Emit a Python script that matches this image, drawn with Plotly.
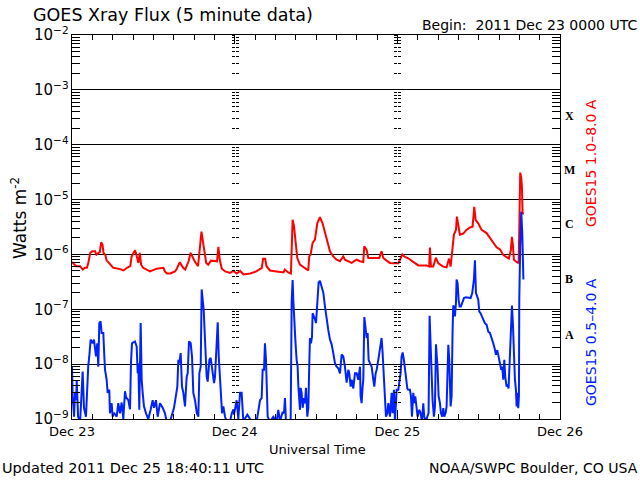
import pandas as pd
import plotly.graph_objects as go

START = "2011-12-23 00:00"

# ---- GOES15 1.0-8.0 A (long channel), hours since start / W m^-2 ----
red_hours = [
    0.0, 0.3, 0.6, 1.2, 1.6, 1.9, 2.2, 2.4, 2.7, 3.0, 3.4, 3.6, 3.9, 4.1, 4.3, 4.5, 4.65, 4.9, 5.1, 5.6,
    6.1, 7.1, 7.6, 8.1, 8.6, 8.8, 9.3, 9.5, 9.8, 10.0, 10.2, 10.5, 11.5, 12.5, 13.5, 13.7, 14.0, 14.5,
    15.2, 15.4, 15.9, 16.4, 16.7, 17.2, 17.5, 18.1, 18.3, 18.6, 19.1, 19.3, 19.5, 19.8, 20.1, 20.5,
    20.9, 21.4, 21.6, 21.8, 22.1, 22.6, 23.3,
    23.8, 24.3, 24.8, 25.3, 26.3, 27.2, 28.0, 28.2, 28.5, 28.7, 29.2, 30.2, 31.2, 31.4, 31.9, 32.3,
    32.45, 32.55, 32.75, 33.0, 33.24, 33.63, 34.37, 34.86, 35.0, 35.2, 35.5, 35.84, 36.19, 36.58,
    36.97, 37.32, 37.66, 38.06, 38.55, 39.04, 39.53, 39.78, 40.02, 40.27, 40.76, 41.25, 41.99, 42.48,
    42.97, 43.12, 43.46, 43.71, 44.45, 45.33, 45.68, 45.92, 46.42, 46.91,
    47.4, 48.14, 48.38, 48.73, 49.12, 49.61, 50.35, 51.09, 52.3, 52.7, 52.81, 52.96, 53.3, 53.69,
    54.04, 54.77, 55.27, 55.62, 55.86, 56.1, 56.35, 56.65, 56.79, 56.99, 57.23, 57.72, 58.2, 58.71,
    59.1, 59.35, 59.55, 59.94, 60.43, 61.17, 61.66, 62.15, 62.64, 63.13, 63.63, 64.12, 64.46, 64.75,
    64.9, 65.05, 65.2, 65.59, 65.89, 65.99, 66.13, 66.28, 66.38, 66.48, 66.67,
]
red_flux = [
    7.3e-7, 6.8e-7, 6.1e-7, 6.1e-7, 5.3e-7, 5.7e-7, 5.7e-7, 7.0e-7, 1.07e-6, 1.14e-6, 1.14e-6, 9.9e-7,
    1.07e-6, 1.1e-6, 1.66e-6, 1.51e-6, 1.07e-6, 9.9e-7, 7.8e-7, 6.5e-7,
    5.7e-7, 5.4e-7, 5.1e-7, 5.7e-7, 6.1e-7, 9.2e-7, 1.19e-6, 9.9e-7, 7.0e-7, 1.07e-6, 6.5e-7, 5.7e-7,
    4.9e-7, 5.5e-7, 5.7e-7, 4.9e-7, 4.5e-7, 4.5e-7,
    4.9e-7, 5.3e-7, 7.2e-7, 5.7e-7, 5.3e-7, 7.5e-7, 1.07e-6, 7.5e-7, 6.8e-7, 6.1e-7, 2.6e-6, 1.9e-6,
    1.22e-6, 7.0e-7, 6.5e-7, 7.7e-7,
    7.7e-7, 7.5e-7, 1.37e-6, 8.0e-7, 5.5e-7, 4.9e-7, 4.6e-7,
    5.0e-7, 4.5e-7, 5.0e-7, 4.3e-7, 4.5e-7, 4.9e-7, 5.7e-7, 8.3e-7, 8.3e-7, 6.1e-7, 5.1e-7, 4.9e-7,
    4.7e-7, 5.3e-7, 4.7e-7, 4.5e-7,
    1.86e-6, 4.3e-6, 3.3e-6, 1.41e-6, 8.6e-7, 6.5e-7, 5.7e-7, 5.1e-7, 9.2e-7, 9.9e-7, 1.62e-6, 1.86e-6,
    3.7e-6, 4.8e-6,
    3.7e-6, 2.5e-6, 1.62e-6, 1.14e-6, 9.2e-7, 8.0e-7, 7.5e-7, 8.6e-7, 9.2e-7, 8.0e-7, 7.5e-7, 7.0e-7,
    8.0e-7, 7.5e-7,
    7.3e-7, 1.41e-6, 1.22e-6, 8.6e-7, 8.6e-7, 8.6e-7, 1.14e-6, 8.6e-7, 7.7e-7, 7.0e-7,
    6.9e-7, 6.9e-7, 7.9e-7, 1.0e-6, 9.0e-7, 8.5e-7, 7.3e-7, 6.3e-7, 6.3e-7, 6.0e-7, 1.33e-6, 6.0e-7,
    6.0e-7, 8.7e-7,
    6.9e-7, 6.0e-7, 5.8e-7, 8.4e-7, 6.0e-7, 1.39e-6, 2.3e-6, 2.8e-6, 4.9e-6, 3.45e-6, 2.3e-6, 2.4e-6,
    2.8e-6, 3.1e-6,
    3.2e-6, 7.4e-6, 4.25e-6, 3.7e-6, 2.8e-6, 2.45e-6, 1.97e-6, 1.6e-6, 1.35e-6, 1.24e-6, 9.8e-7, 8.9e-7,
    8.4e-7, 1.2e-6,
    2.1e-6, 1.5e-6, 8.0e-7, 7.3e-7, 6.9e-7, 2.8e-6, 3.1e-5, 2.5e-5, 1.74e-5, 5.6e-6, 5.5e-6,
]

# ---- GOES15 0.5-4.0 A (short channel) ----
blue_hours = [
    0.0, 0.1, 0.3, 0.45, 0.6, 0.7, 0.9, 1.2, 1.57, 1.77, 2.06, 2.26, 2.4, 2.55, 2.75, 2.9, 3.05, 3.24,
    3.39, 3.54, 3.73, 3.88, 4.03, 4.22, 4.37, 4.62, 4.77, 4.87, 5.11, 5.26, 5.5, 5.6, 5.85, 6.0, 6.19,
    6.59, 6.83, 7.08, 7.33, 7.57, 7.82, 7.97, 8.31, 8.56, 8.7, 8.85, 9.05, 9.29, 9.54, 9.69, 9.79, 9.93,
    10.13, 10.28, 10.43, 10.62, 10.92, 11.26, 11.6, 11.9, 12.1, 12.39, 12.64, 12.98, 13.38, 13.72,
    13.97, 14.46, 15.05, 15.35, 15.54, 15.69, 15.84, 16.03, 16.23, 16.43, 16.67, 16.92, 17.07, 17.26,
    17.51, 17.71, 17.9, 18.15, 18.4, 18.64, 18.79, 18.99, 19.13, 19.28, 19.43, 19.58, 19.72, 19.87,
    20.02, 20.27, 20.46, 20.61, 20.76, 20.96, 21.1, 21.35, 21.5, 21.65, 21.74, 21.94, 22.14, 22.33,
    22.58, 22.83, 23.32, 23.57, 23.81,
    23.9, 24.29, 24.54, 24.79, 25.03, 25.28, 25.87, 26.51, 27.24, 27.74, 27.98, 28.13, 28.33, 28.47,
    28.62, 28.72, 28.87, 29.21, 29.7, 30.19, 30.44, 30.69, 31.08, 31.28, 31.42, 31.57, 32.26, 32.41,
    32.55, 32.65, 32.8, 32.95, 33.14, 33.29, 33.39, 33.54, 33.64, 33.73, 33.88, 34.03, 34.23, 34.37,
    34.52, 34.72, 34.87, 35.01, 35.11, 35.26, 35.41, 35.5, 35.7, 35.85, 36.0, 36.09, 36.24, 36.39,
    36.58, 36.73, 36.88, 37.08, 37.32, 37.57, 37.81, 38.06, 38.31, 38.55, 38.8, 39.04, 39.29, 39.54,
    39.78, 40.03, 40.27, 40.52, 40.77, 40.91, 41.11, 41.26, 41.5, 41.75, 42.0, 42.24, 42.49, 42.58,
    42.73, 42.88, 42.98, 43.13, 43.27, 43.47, 43.62, 43.76, 43.96, 44.21, 44.45, 44.6, 44.8, 44.95,
    45.19, 45.44, 45.68, 45.83, 46.03, 46.17, 46.32, 46.52, 46.67, 46.91, 47.16, 47.3, 47.5, 47.65,
    47.9, 48.14, 48.39,
    48.48, 48.63, 48.78, 48.97, 49.12, 49.27, 49.47, 49.61, 49.86, 50.01, 50.16, 50.35, 50.5, 50.65,
    50.84, 50.99, 51.24, 51.43, 51.63, 51.83, 51.97, 52.22, 52.42, 52.61, 52.76, 52.91, 53.06, 53.2,
    53.4, 53.55, 53.7, 53.8, 53.94, 54.09, 54.29, 54.43, 54.63, 54.78, 54.93, 55.12, 55.27, 55.52,
    55.66, 55.86, 56.01, 56.15, 56.25, 56.35, 56.5, 56.65, 56.74, 56.89, 57.04, 57.19, 57.38, 57.58,
    57.83, 58.12, 58.47, 58.81, 59.05, 59.3, 59.45, 59.6, 59.79, 59.94, 60.09, 60.28, 60.48, 60.68,
    60.92, 61.17, 61.42, 61.66, 61.91, 62.15, 62.35, 62.55, 62.74, 62.94, 63.14, 63.33, 63.48, 63.63,
    63.78, 63.92, 64.12, 64.27, 64.41, 64.61, 64.76, 64.91, 65.05, 65.2, 65.35, 65.5, 65.6, 65.74,
    65.84, 65.94, 65.99, 66.13, 66.28, 66.43, 66.6,
]
blue_flux = [
    9.0e-9, 2.6e-9, 1.1e-9, 3.0e-9, 2.2e-9, 5.0e-9, 1.1e-9, 9e-10, 7.3e-9, 1.6e-9, 1.1e-9, 5.2e-9,
    9.4e-9, 1.38e-8, 2.8e-8, 2.6e-8, 2.4e-8, 2.8e-8,
    2.1e-8, 1.38e-8, 2.4e-8, 9.0e-9, 5.6e-8, 6.0e-8, 3.7e-8, 3.7e-8, 1.38e-8, 7.9e-9, 5.2e-9, 3.0e-9,
    3.4e-9, 1.27e-9, 1.94e-9, 1.1e-9, 1.3e-9,
    1.1e-9, 1.94e-9, 1.27e-9, 2.0e-9, 1.0e-9, 3.2e-9, 2.5e-9, 2.2e-9, 1.5e-9, 1.04e-8, 2.4e-8, 2.5e-8,
    2.6e-8, 2.1e-8, 6.8e-9, 1.04e-8, 1.47e-9,
    5.6e-8, 5.2e-9, 3.0e-9, 1.7e-9, 1.27e-9, 1.0e-9, 1.47e-9, 2.2e-9, 1.6e-9, 2.2e-9, 1.1e-9, 1.94e-9,
    1.6e-9, 1.27e-9,
    9e-10, 9e-10, 1.6e-9, 2.8e-9, 3.9e-9, 1.2e-8, 1.04e-8, 1.59e-8, 3.9e-9, 3.0e-9, 1.7e-9, 5.9e-9,
    6.8e-9, 2.6e-8,
    2.4e-8, 1.38e-8, 3.0e-9, 2.2e-9, 1.3e-9, 1.1e-9, 6.8e-9, 9.0e-9, 2.3e-7, 1.5e-7, 9.8e-8, 3.7e-8,
    9.0e-9, 5.9e-9,
    4.8e-9, 1.2e-8, 1.3e-8, 9.0e-9, 7.9e-9, 4.5e-9, 5.9e-9, 2.4e-8, 5.8e-8, 1.38e-8, 9.0e-9, 2.2e-9,
    1.27e-9, 1.7e-9,
    1.1e-9, 9e-10, 9e-10, 1.27e-9, 1.5e-9,
    1.2e-9, 2.2e-9, 1.0e-9, 3.0e-9, 3.0e-9, 9e-10, 1.2e-9, 9e-10, 9e-10, 2.2e-9, 2.4e-9, 7.9e-9,
    7.9e-9, 2.4e-8,
    1.2e-8, 2.2e-9, 1.1e-9, 9e-10, 1.1e-9, 9e-10, 1.47e-9, 9e-10, 1.35e-9, 1.27e-9, 2.4e-9, 9e-10,
    9e-10, 1.38e-7,
    3.4e-7, 1.5e-7, 4.2e-8, 2.8e-8, 1.2e-8, 9.0e-9, 4.1e-9, 2.2e-9, 1.47e-9, 3.7e-9, 3.0e-9, 1.6e-9,
    2.4e-9, 1.94e-9,
    3.7e-9, 1.1e-9, 1.6e-9, 1.04e-8, 3.0e-8, 2.4e-8, 3.2e-8, 8.5e-8, 7.5e-8, 6.6e-8, 5.6e-8, 8.5e-8,
    2.3e-7, 3.1e-7,
    3.3e-7, 2.9e-7, 2.5e-7, 2.0e-7, 1.13e-7, 6.4e-8, 4.2e-8, 2.8e-8, 2.3e-8, 1.59e-8, 1.04e-8, 9.0e-9,
    8.4e-9, 6.8e-9,
    1.5e-8, 1.38e-8, 9.0e-9, 4.6e-9, 7.9e-9, 6.8e-9, 3.9e-9, 5.2e-9, 3.6e-9, 6.8e-9, 6.8e-9, 5.2e-9,
    9.0e-9, 2.6e-9,
    1.94e-9, 3.9e-9, 5.2e-9, 7.2e-8, 4.9e-8, 3.0e-8, 3.7e-8, 1.2e-8, 1.04e-8, 9.0e-9, 5.2e-9, 3.9e-9,
    6.8e-9, 7.9e-9,
    1.2e-8, 1.8e-8, 3.0e-8, 1.59e-8, 5.2e-9, 2.2e-9, 1.1e-9, 1.27e-9, 1.94e-9, 1.1e-9, 3.0e-9, 1.27e-9,
    3.4e-9, 9e-10,
    3.4e-9, 3.4e-9, 5.2e-9,
    6.8e-9, 1.38e-8, 1.63e-8, 1.2e-8, 7.9e-9, 5.2e-9, 3.6e-9, 3.4e-9, 3.4e-9, 2.6e-9, 1.1e-9, 3.0e-9,
    1.94e-9, 2.6e-9,
    1.47e-9, 1.1e-9, 1.47e-9, 1.28e-9, 9e-10, 1.94e-9, 1.1e-9, 9e-10, 1.1e-9, 1.28e-9, 7.6e-8, 1.7e-8,
    9.0e-9, 2.2e-9,
    1.1e-9, 1.7e-9, 2.3e-8, 1.5e-8, 8.5e-9, 2.6e-9, 1.94e-9, 1.28e-9, 1.1e-9, 1.58e-9, 1.1e-9, 1.28e-9,
    1.7e-9, 2.25e-8,
    1.2e-8, 1.7e-9, 2.6e-9, 3.9e-8, 1.17e-7, 1.12e-7, 7.4e-8, 1.3e-7, 3.5e-7, 3.0e-7, 1.49e-7, 1.12e-7,
    1.12e-7, 1.33e-7,
    1.6e-7, 1.66e-7, 1.63e-7, 1.6e-7, 1.98e-7, 3.5e-7, 7.8e-7, 1.98e-7, 1.7e-7, 1.49e-7, 9.1e-8, 8.5e-8,
    7.4e-8, 6.3e-8,
    5.6e-8, 5.2e-8, 3.9e-8, 3.7e-8, 2.8e-8, 2.4e-8, 1.96e-8, 1.48e-8, 1.8e-8, 1.29e-8, 9.7e-9, 7.9e-9,
    9.0e-9, 5.2e-9,
    1.2e-8, 5.9e-9, 3.9e-9, 4.3e-9, 3.6e-9, 1.8e-8, 4.9e-8, 1.17e-7, 5.6e-8, 1.2e-8, 5.2e-9, 3.4e-9,
    1.7e-9, 3.0e-9,
    1.58e-9, 2.6e-9, 1.5e-7, 1.4e-6, 6.0e-6, 2.5e-6, 3.5e-7,
]

class_letters = ["X", "M", "C", "B", "A"]
class_levels = [-3.47, -4.46, -5.45, -6.45, -7.46]   # log10 W m^-2 where letters sit
day_ticks = ["2011-12-23", "2011-12-24", "2011-12-25", "2011-12-26"]

t0 = pd.Timestamp(START)
red_t = [t0 + pd.Timedelta(hours=h) for h in red_hours]
blue_t = [t0 + pd.Timedelta(hours=h) for h in blue_hours]

FONT = "DejaVu Sans"
fig = go.Figure()
fig.add_trace(go.Scatter(x=red_t, y=red_flux, mode="lines",
                         line=dict(color="#ff0000", width=2), showlegend=False))
fig.add_trace(go.Scatter(x=blue_t, y=blue_flux, mode="lines",
                         line=dict(color="#0022ff", width=2), showlegend=False))

fig.update_layout(
    width=640, height=480,
    margin=dict(l=72, r=80, t=35, b=61),
    paper_bgcolor="white", plot_bgcolor="white",
    font=dict(family=FONT, color="black"),
    xaxis=dict(
        type="date", range=[day_ticks[0], day_ticks[-1]],
        tickvals=day_ticks, tickformat="%b %d",
        ticks="inside", ticklen=9, tickcolor="black",
        minor=dict(dtick=3 * 3600 * 1000, ticks="inside", ticklen=5, tickcolor="black"),
        showline=True, linecolor="black", linewidth=1, mirror="ticks",
        showgrid=False, zeroline=False,
        tickfont=dict(family=FONT, size=13),
    ),
    yaxis=dict(
        type="log", range=[-9, -2], dtick=1, exponentformat="power",
        ticks="inside", ticklen=9, tickcolor="black",
        minor=dict(ticks="inside", ticklen=8, tickcolor="black", showgrid=False),
        showline=True, linecolor="black", linewidth=1, mirror="ticks",
        showgrid=True, gridcolor="black", gridwidth=1,
        tickfont=dict(family=FONT, size=12),
    ),
)

# dashed day dividers made of tick marks (internal axes at Dec 24 and Dec 25)
for i, pos in enumerate([1 / 3, 2 / 3]):
    for j, side in enumerate(["outside", "inside"]):
        name = "yaxis%d" % (2 + 2 * i + j)
        fig.update_layout(**{name: dict(
            type="log", range=[-9, -2], dtick=1, overlaying="y", anchor="free",
            position=pos, side="left", showline=False, showgrid=False,
            showticklabels=False, ticks=side, ticklen=3, tickcolor="black",
            minor=dict(ticks=side, ticklen=3, tickcolor="black"),
            zeroline=False,
        )})
        fig.add_trace(go.Scatter(x=[], y=[], yaxis="y%d" % (2 + 2 * i + j), showlegend=False))

def ann(text, x, y, **kw):
    d = dict(text=text, x=x, y=y, xref="paper", yref="paper", showarrow=False)
    d.update(kw)
    fig.add_annotation(**d)

W, H = 488.0, 384.0
px = lambda v: (v - 72) / W
py = lambda v: (419 - v) / H

ann("GOES Xray Flux (5 minute data)", px(31), py(15), xanchor="left", yanchor="middle",
    font=dict(size=17.5, family=FONT))
ann("Begin:  2011 Dec 23 0000 UTC", px(639), py(25), xanchor="right", yanchor="middle",
    font=dict(size=14, family=FONT))
ann("Watts m<sup>-2</sup>", px(19), py(218), textangle=-90, xanchor="center", yanchor="middle",
    font=dict(size=17, family=FONT))
ann("Universal Time", px(317), py(449), xanchor="center", yanchor="middle",
    font=dict(size=13, family=FONT))
ann("Updated 2011 Dec 25 18:40:11 UTC", px(0), py(468), xanchor="left", yanchor="middle",
    font=dict(size=14.5, family=FONT))
ann("NOAA/SWPC Boulder, CO USA", px(640), py(468), xanchor="right", yanchor="middle",
    font=dict(size=14, family=FONT))
ann("GOES15 1.0\u20138.0 A", px(591), py(163), textangle=-90, xanchor="center", yanchor="middle",
    font=dict(size=14, family=FONT, color="#ff0000"))
ann("GOES15 0.5\u20134.0 A", px(591), py(342), textangle=-90, xanchor="center", yanchor="middle",
    font=dict(size=14, family=FONT, color="#0022ff"))
for letter, lvl in zip(class_letters, class_levels):
    fig.add_annotation(text="<b>%s</b>" % letter, x=px(569), y=lvl, xref="paper", yref="y",
                       showarrow=False, xanchor="center", yanchor="middle",
                       font=dict(size=12, family="Liberation Serif", color="black"))

fig.write_html("out.html", config={"displayModeBar": False})
with open("out.html", "r", encoding="utf-8") as f:
    html = f.read()
html = html.replace("<head>", "<head><style>body{margin:0;padding:0;}</style>", 1)
with open("out.html", "w", encoding="utf-8") as f:
    f.write(html)
